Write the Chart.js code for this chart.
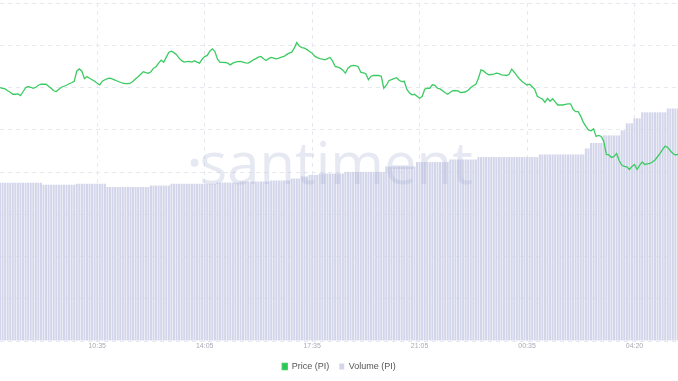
<!DOCTYPE html>
<html>
<head>
<meta charset="utf-8">
<script src="https://cdn.jsdelivr.net/npm/chart.js@4.4.1/dist/chart.umd.min.js"></script>
<style>
  html, body { margin: 0; padding: 0; background: #fff; }
  #wrap { width: 678px; height: 381px; }
</style>
</head>
<body>
<div id="wrap"><canvas id="priceChart"></canvas></div>
<script>
// 5-minute samples, first one at 07:25
const startMinute = 7 * 60 + 25;
const stepMinutes = 5;

// tick labels shown under the chart (every 42 samples, starting at sample 38)
const tickLabels = ['10:35', '14:05', '17:35', '21:05', '00:35', '04:20'];
const firstTick = 38;
const tickEvery = 42;

// Price (PI), USD
const price = [
  0.6557, 0.6550, 0.6543, 0.6525, 0.6510, 0.6490, 0.6490, 0.6493, 0.6477, 0.6515,
  0.6555, 0.6567, 0.6560, 0.6550, 0.6560, 0.6580, 0.6590, 0.6592, 0.6590, 0.6570,
  0.6550, 0.6525, 0.6517, 0.6540, 0.6560, 0.6570, 0.6580, 0.6595, 0.6605, 0.6620,
  0.6720, 0.6743, 0.6720, 0.6645, 0.6667, 0.6650, 0.6635, 0.6620, 0.6600, 0.6583,
  0.6620, 0.6635, 0.6645, 0.6650, 0.6640, 0.6630, 0.6620, 0.6610, 0.6600, 0.6597,
  0.6597, 0.6600, 0.6620, 0.6645, 0.6665, 0.6690, 0.6715, 0.6705, 0.6700, 0.6715,
  0.6750, 0.6765, 0.6800, 0.6830, 0.6810, 0.6860, 0.6910, 0.6920, 0.6905, 0.6885,
  0.6850, 0.6825, 0.6810, 0.6815, 0.6817, 0.6810, 0.6825, 0.6810, 0.6800, 0.6840,
  0.6865, 0.6877, 0.6920, 0.6943, 0.6915, 0.6840, 0.6808, 0.6808, 0.6807, 0.6800,
  0.6783, 0.6800, 0.6810, 0.6815, 0.6817, 0.6810, 0.6803, 0.6800, 0.6815, 0.6833,
  0.6845, 0.6860, 0.6867, 0.6845, 0.6827, 0.6845, 0.6857, 0.6850, 0.6843, 0.6850,
  0.6860, 0.6867, 0.6885, 0.6900, 0.6910, 0.6950, 0.7005, 0.6970, 0.6955, 0.6950,
  0.6935, 0.6917, 0.6900, 0.6870, 0.6855, 0.6845, 0.6840, 0.6833, 0.6845, 0.6857,
  0.6820, 0.6767, 0.6760, 0.6750, 0.6730, 0.6700, 0.6750, 0.6770, 0.6777, 0.6775,
  0.6765, 0.6710, 0.6703, 0.6695, 0.6635, 0.6670, 0.6677, 0.6677, 0.6677, 0.6670,
  0.6550, 0.6580, 0.6625, 0.6635, 0.6645, 0.6655, 0.6630, 0.6617, 0.6620, 0.6540,
  0.6505, 0.6485, 0.6490, 0.6470, 0.6450, 0.6467, 0.6540, 0.6550, 0.6550, 0.6585,
  0.6580, 0.6550, 0.6543, 0.6525, 0.6505, 0.6490, 0.6510, 0.6527, 0.6525, 0.6523,
  0.6507, 0.6510, 0.6515, 0.6530, 0.6557, 0.6575, 0.6590, 0.6650, 0.6733, 0.6723,
  0.6700, 0.6683, 0.6687, 0.6690, 0.6700, 0.6695, 0.6683, 0.6680, 0.6677, 0.6690,
  0.6740, 0.6710, 0.6675, 0.6645, 0.6620, 0.6600, 0.6583, 0.6590, 0.6565, 0.6540,
  0.6470, 0.6455, 0.6443, 0.6410, 0.6450, 0.6420, 0.6445, 0.6415, 0.6383, 0.6383,
  0.6383, 0.6390, 0.6395, 0.6395, 0.6340, 0.6317, 0.6317, 0.6270, 0.6210, 0.6170,
  0.6135, 0.6125, 0.6145, 0.6070, 0.6080, 0.6070, 0.6020, 0.5890, 0.5885, 0.5860,
  0.5870, 0.5900, 0.5830, 0.5785, 0.5770, 0.5767, 0.5740, 0.5770, 0.5790, 0.5740,
  0.5780, 0.5815, 0.5790, 0.5795, 0.5800, 0.5815, 0.5835, 0.5867, 0.5900, 0.5940,
  0.5973, 0.5960, 0.5927, 0.5900, 0.5885, 0.5890
];

// Volume (PI), millions USD (rolling 24h)
const volume = [
  78.9, 78.9, 78.9, 78.9, 78.9, 78.9, 78.9, 78.9, 78.9, 78.9,
  78.9, 78.9, 78.9, 78.9, 78.9, 78.9, 78.9, 77.9, 77.9, 77.9,
  77.9, 77.9, 77.9, 77.9, 77.9, 77.9, 77.9, 77.9, 77.9, 77.9,
  78.4, 78.4, 78.4, 78.4, 78.4, 78.4, 78.4, 78.4, 78.4, 78.4,
  78.4, 78.4, 76.8, 76.8, 76.8, 76.8, 76.8, 76.8, 76.8, 76.8,
  76.8, 76.8, 76.8, 76.8, 76.8, 76.8, 76.8, 76.8, 76.8, 77.5,
  77.5, 77.5, 77.5, 77.5, 77.5, 77.5, 77.5, 78.4, 78.4, 78.4,
  78.4, 78.4, 78.4, 78.4, 78.4, 78.4, 78.4, 78.4, 78.4, 78.4,
  78.4, 78.4, 78.4, 78.4, 78.4, 79.0, 79.0, 79.0, 79.0, 79.0,
  79.0, 79.0, 79.0, 79.0, 79.5, 79.5, 79.5, 79.5, 79.5, 79.5,
  79.5, 79.5, 79.5, 79.5, 79.5, 79.5, 80.0, 80.0, 80.0, 80.0,
  80.0, 80.0, 80.0, 80.0, 81.0, 81.0, 81.0, 81.0, 82.0, 82.0,
  82.0, 82.8, 82.8, 82.8, 82.8, 83.5, 83.5, 83.5, 83.5, 83.5,
  83.5, 83.5, 83.5, 83.5, 83.5, 84.3, 84.3, 84.3, 84.3, 84.3,
  84.3, 84.3, 84.3, 84.3, 84.3, 84.3, 84.3, 84.3, 84.3, 84.3,
  84.3, 87.0, 87.0, 87.0, 87.0, 87.0, 87.0, 87.0, 87.0, 87.0,
  87.0, 87.0, 87.0, 89.2, 89.2, 89.2, 89.2, 89.2, 89.2, 89.2,
  89.2, 89.2, 89.2, 89.2, 89.2, 89.2, 90.5, 90.5, 90.5, 90.5,
  90.5, 90.5, 90.5, 90.5, 90.5, 90.5, 90.5, 91.7, 91.7, 91.7,
  91.7, 91.7, 91.7, 91.7, 91.7, 91.7, 91.7, 91.7, 91.7, 91.7,
  91.7, 91.7, 91.7, 91.7, 91.7, 91.7, 91.7, 91.7, 91.7, 91.7,
  91.7, 93.0, 93.0, 93.0, 93.0, 93.0, 93.0, 93.0, 93.0, 93.0,
  93.0, 93.0, 93.0, 93.0, 93.0, 93.0, 93.0, 93.0, 93.0, 96.0,
  96.0, 98.7, 98.7, 98.7, 98.7, 98.7, 102.5, 102.5, 102.5, 102.5,
  102.5, 102.5, 102.5, 105.0, 105.0, 108.5, 108.5, 108.5, 111.0, 111.0,
  111.0, 114.0, 114.0, 114.0, 114.0, 114.0, 114.0, 114.0, 114.0, 114.0,
  114.0, 115.9, 115.9, 115.9, 115.9, 115.9, 115.9
];

// category labels: clock time of each sample
const times = price.map(function (_, i) {
    const m = (startMinute + i * stepMinutes) % 1440;
    return String(Math.floor(m / 60)).padStart(2, '0') + ':' + String(m % 60).padStart(2, '0');
});

// faint ".santiment" watermark
const watermark = {
    id: 'watermark',
    afterDatasetsDraw: function (chart) {
        const ctx = chart.ctx;
        const area = chart.chartArea;
        const cx = area.left + area.width * 0.487;
        const baseY = area.top + (area.bottom - area.top) * 0.535;
        ctx.save();
        ctx.fillStyle = 'rgba(165, 172, 210, 0.28)';
        ctx.font = '58px "Open Sans", sans-serif';
        ctx.textAlign = 'center';
        ctx.textBaseline = 'alphabetic';
        ctx.fillText('santiment', cx + 6, baseY);
        const w = ctx.measureText('santiment').width;
        ctx.beginPath();
        ctx.arc(cx + 6 - w / 2 - 5, baseY - 21, 4, 0, Math.PI * 2);
        ctx.fill();
        ctx.restore();
    }
};

const gridColor = '#e8e9f0';

const ctx = document.getElementById('priceChart').getContext('2d');
const priceChart = new Chart(ctx, {
    data: {
        labels: times,
        datasets: [{
            type: 'line',
            label: 'Price (PI)',
            data: price,
            yAxisID: 'yPrice',
            borderColor: '#3ccb62',
            backgroundColor: '#26c953',
            borderWidth: 1.3,
            pointRadius: 0,
            tension: 0,
            order: 0
        }, {
            type: 'bar',
            label: 'Volume (PI)',
            data: volume,
            yAxisID: 'yVolume',
            backgroundColor: '#d3d6ea',
            borderWidth: 0,
            barPercentage: 0.8,
            categoryPercentage: 1,
            order: 1
        }]
    },
    options: {
        responsive: true,
        maintainAspectRatio: false,
        animation: false,
        layout: { padding: { top: 3, left: 0, right: 0, bottom: 0 } },
        plugins: {
            legend: {
                position: 'bottom',
                labels: {
                    boxWidth: 5,
                    boxHeight: 6,
                    padding: 10,
                    color: '#555',
                    font: { family: '"Liberation Sans", Arial, sans-serif', size: 9 }
                }
            },
            tooltip: { enabled: false }
        },
        scales: {
            x: {
                offset: false,
                afterFit: function (scale) { scale.height = 11; },
                border: { display: false, dash: [4, 4] },
                grid: { color: gridColor, drawTicks: false, offset: false },
                ticks: {
                    autoSkip: false,
                    maxRotation: 0,
                    padding: 1,
                    color: '#a9abb5',
                    font: { family: '"Liberation Sans", Arial, sans-serif', size: 7 },
                    callback: function (value, index) {
                        const k = index - firstTick;
                        if (k >= 0 && k % tickEvery === 0 && k / tickEvery < tickLabels.length) {
                            return tickLabels[k / tickEvery];
                        }
                        return null;
                    }
                }
            },
            yVolume: {
                position: 'left',
                min: 0,
                max: 168.5,
                border: { display: false, dash: [4, 4] },
                grid: { color: gridColor, drawTicks: false },
                ticks: { display: false, stepSize: 168.5 / 8 }
            },
            yPrice: {
                display: false,
                min: 0.403,
                max: 0.740
            }
        }
    },
    plugins: [watermark]
});
</script>
</body>
</html>
